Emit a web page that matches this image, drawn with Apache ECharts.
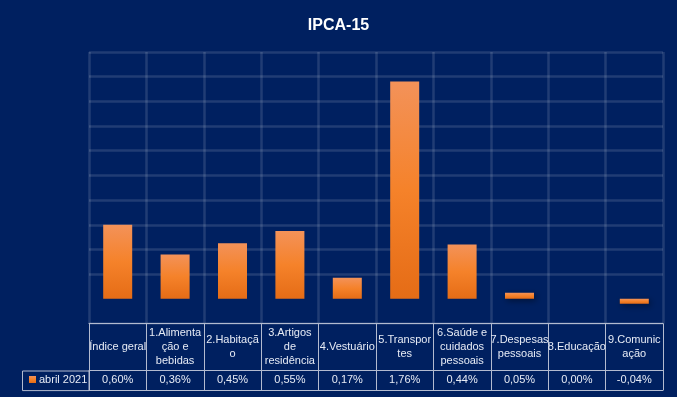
<!DOCTYPE html>
<html>
<head>
<meta charset="utf-8">
<script src="https://cdn.jsdelivr.net/npm/echarts@6/dist/echarts.min.js"></script>
<style>
  html, body { margin: 0; padding: 0; background: #002060; }
  #chart { width: 677px; height: 397px; }
</style>
</head>
<body>
<div id="chart"></div>
<script>
// categories as named in the data table
const categories = [
  'Índice geral', '1.Alimentação e bebidas', '2.Habitação', '3.Artigos de residência',
  '4.Vestuário', '5.Transportes', '6.Saúde e cuidados pessoais', '7.Despesas pessoais',
  '8.Educação', '9.Comunicação'
];
// how Excel wrapped each header cell
const headerLabels = [
  'Índice geral', '1.Alimenta\nção e\nbebidas', '2.Habitaçã\no', '3.Artigos\nde\nresidência',
  '4.Vestuário', '5.Transpor\ntes', '6.Saúde e\ncuidados\npessoais', '7.Despesas\npessoais',
  '8.Educação', '9.Comunic\nação'
];
const seriesName = 'abril 2021';
const values = [0.60, 0.36, 0.45, 0.55, 0.17, 1.76, 0.44, 0.05, 0.00, -0.04];

// y scale (hidden) : -0,2 .. 2,0 step 0,2
const yMin = -0.2, yMax = 2.0, yStep = 0.2;

const chart = echarts.init(document.getElementById('chart'));

const font = "'Liberation Sans', Arial, sans-serif";
const gridCol = 'rgba(255,255,255,0.13)';
const tableCol = '#b3bbd0';
const textCol = '#e6ebf5';

// grid box
const G = { left: 89, right: 14, top: 52, bottom: 73.5 };
const rowH1 = 47;   // header row height
const rowH2 = 19.6; // value row height

// horizontal gridlines: no line on zero (Excel axis line is hidden)
const nTicks = Math.round((yMax - yMin) / yStep) + 1;
const hLineColors = [];
for (let i = 0; i < nTicks; i++) {
  const v = yMin + i * yStep;
  hLineColors.push(Math.abs(v) < 1e-9 ? 'rgba(0,0,0,0)' : gridCol);
}

const fmtPct = v => v.toFixed(2).replace('.', ',') + '%';

const option = {
  backgroundColor: '#002060',
  animation: false,
  title: {
    text: 'IPCA-15',
    left: 'center',
    top: 13,
    textStyle: { color: '#ffffff', fontFamily: font, fontSize: 16, fontWeight: 'bold' }
  },
  legend: {
    data: [seriesName],
    left: 24,
    top: 369,
    icon: 'rect',
    itemWidth: 7,
    itemHeight: 7,
    itemGap: 4,
    textStyle: { color: textCol, fontFamily: font, fontSize: 11, padding: [0, 0, 0, -2] }
  },
  grid: G,
  xAxis: [
    {
      type: 'category',
      data: categories,
      position: 'bottom',
      axisLine: { show: true, onZero: false, lineStyle: { color: tableCol, width: 1 } },
      axisTick: { show: true, interval: 0, length: rowH1 + rowH2, lineStyle: { color: tableCol, width: 1 } },
      axisLabel: {
        interval: 0,
        margin: rowH1 / 2,
        verticalAlign: 'middle',
        color: textCol,
        fontFamily: font,
        fontSize: 11,
        lineHeight: 14,
        formatter: (v, i) => headerLabels[i]
      },
      splitLine: { show: true, interval: 0, lineStyle: { color: gridCol, width: 2.5 } }
    },
    {
      type: 'category',
      data: categories,
      position: 'bottom',
      offset: rowH1,
      axisLine: { show: true, onZero: false, lineStyle: { color: tableCol, width: 1 } },
      axisTick: { show: false },
      axisLabel: {
        interval: 0,
        margin: rowH2 / 2,
        verticalAlign: 'middle',
        color: textCol,
        fontFamily: font,
        fontSize: 11,
        formatter: (v, i) => fmtPct(values[i])
      },
      splitLine: { show: false }
    },
    {
      type: 'category',
      data: categories,
      position: 'bottom',
      offset: rowH1 + rowH2,
      axisLine: { show: true, onZero: false, lineStyle: { color: tableCol, width: 1 } },
      axisTick: { show: false },
      axisLabel: { show: false },
      splitLine: { show: false }
    }
  ],
  yAxis: {
    type: 'value',
    min: yMin,
    max: yMax,
    interval: yStep,
    axisLine: { show: false },
    axisTick: { show: false },
    axisLabel: { show: false },
    splitLine: { show: true, lineStyle: { color: hLineColors, width: 2.5 } }
  },
  series: [{
    name: seriesName,
    type: 'bar',
    xAxisIndex: 0,
    data: values,
    barWidth: 29,
    itemStyle: {
      color: new echarts.graphic.LinearGradient(0, 0, 0, 1, [
        { offset: 0, color: '#f39259' },
        { offset: 0.5, color: '#f5822a' },
        { offset: 1, color: '#e56c16' }
      ]),
      shadowColor: 'rgba(0,0,0,0.45)',
      shadowBlur: 6,
      shadowOffsetX: 2,
      shadowOffsetY: 2
    }
  }]
};

chart.setOption(option);

// legend cell of the data table, left of the plot
const yBottomAxis = 397 - G.bottom;
chart.setOption({
  graphic: [{
    type: 'rect',
    shape: { x: 22.5, y: yBottomAxis + rowH1 + 0.5, width: G.left - 22.5, height: rowH2 },
    style: { fill: 'none', stroke: tableCol, lineWidth: 1 },
    silent: true,
    z: 10
  }]
});
</script>
</body>
</html>
